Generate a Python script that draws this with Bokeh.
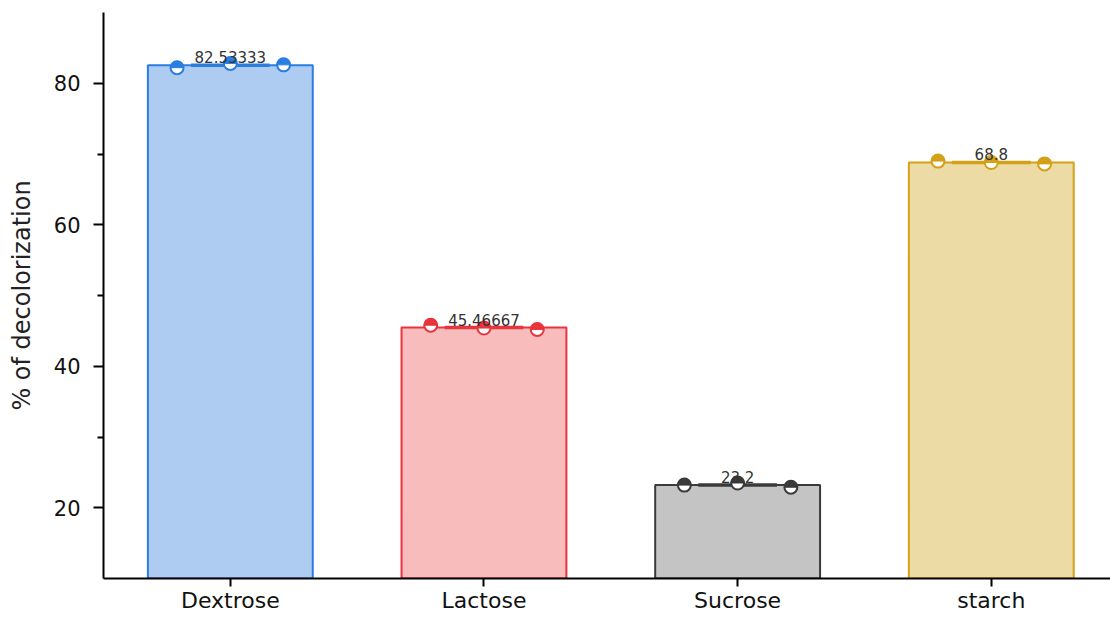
import numpy as np
from bokeh.plotting import figure
from bokeh.models import FixedTicker, ColumnDataSource, Range1d
from bokeh.core.properties import value
from bokeh.embed import file_html
from bokeh.resources import INLINE

categories = ["Dextrose", "Lactose", "Sucrose", "starch"]
replicates = [
    [82.2, 82.8, 82.6],
    [45.8, 45.4, 45.2],
    [23.2, 23.5, 22.9],
    [69.0, 68.8, 68.6],
]
means = [82.53333, 45.46667, 23.2, 68.8]
mean_labels = ["82.53333", "45.46667", "23.2", "68.8"]
fill_colors = ["#aecbf2", "#f9bcbc", "#c4c4c4", "#ecdba4"]
line_colors = ["#2a7de1", "#e8343c", "#3a3a3a", "#d4a017"]
y_ticks = [20, 40, 60, 80]
y_minor = [30, 50, 70]

xs = list(range(1, len(categories) + 1))
FONT = "DejaVu Sans"

p = figure(width=1110, height=617, output_backend="svg", toolbar_location=None,
           x_range=Range1d(0.5, 4.47), y_range=Range1d(10, 90),
           min_border_left=103, min_border_right=0, min_border_top=12, min_border_bottom=39)
p.outline_line_color = None
p.grid.visible = False
p.background_fill_color = "white"
p.border_fill_color = "white"

src = ColumnDataSource(dict(x=xs, top=means, fill=fill_colors, line=line_colors,
                            lab=mean_labels))
p.vbar(x="x", top="top", bottom=10, width=0.65, source=src, fill_color="fill",
       line_color="line", line_width=2)

# error bar caps (mean line)
p.segment(x0=[x - 0.155 for x in xs], x1=[x + 0.155 for x in xs], y0=means, y1=means,
          line_color=line_colors, line_width=3.5)

# replicate points
offs = [-0.21, 0.0, 0.21]
px, py, pc = [], [], []
for i, reps in enumerate(replicates):
    for o, v in zip(offs, reps):
        px.append(xs[i] + o)
        py.append(v)
        pc.append(line_colors[i])
p.scatter(px, py, size=13, fill_color="white", line_color=pc, line_width=2)
p.wedge(px, py, radius=6.5, radius_units="screen", start_angle=0, end_angle=np.pi,
        fill_color=pc, line_color=pc, line_width=1)

p.text(x="x", y="top", text="lab", source=src, text_align="center",
       text_baseline="bottom", text_font_size="15px", text_color="#333333",
       text_font=value(FONT), y_offset=-2)

# axes
p.xaxis.ticker = FixedTicker(ticks=xs)
p.xaxis.major_label_overrides = {x: c for x, c in zip(xs, categories)}
p.xaxis.major_label_text_font_size = "22px"
p.xaxis.major_label_text_color = "#111111"
p.xaxis.major_tick_in = 0
p.xaxis.major_tick_out = 8
p.xaxis.minor_tick_line_color = None
p.xaxis.major_label_standoff = 1

p.yaxis.ticker = FixedTicker(ticks=y_ticks, minor_ticks=y_minor)
p.yaxis.major_label_text_font_size = "21px"
p.yaxis.major_label_text_color = "#111111"
p.yaxis.major_tick_in = 0
p.yaxis.major_tick_out = 10
p.yaxis.minor_tick_in = 0
p.yaxis.minor_tick_out = 6
p.yaxis.major_label_standoff = 13
p.yaxis.axis_label = "% of decolorization"
p.yaxis.axis_label_text_font_size = "24px"
p.yaxis.axis_label_text_font_style = "normal"
p.yaxis.axis_label_text_color = "#222222"
p.yaxis.axis_label_standoff = 15

for ax in (p.xaxis, p.yaxis):
    ax.axis_line_width = 2
    ax.axis_line_color = "black"
    ax.major_tick_line_width = 2
    ax.minor_tick_line_width = 2
    ax.major_label_text_font = FONT
    ax.axis_label_text_font = FONT

open("out.html", "w").write(file_html(p, INLINE))
